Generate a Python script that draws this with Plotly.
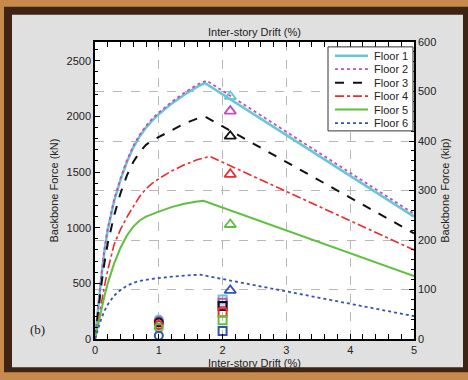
import plotly.graph_objects as go

KIP = 4.448  # kN per kip

floors = ["Floor 1", "Floor 2", "Floor 3", "Floor 4", "Floor 5", "Floor 6"]
colors = ["#66c6da", "#c24fb4", "#111111", "#ee2a2a", "#5fc03f", "#3352bb"]
dashes = ["solid", "dot", "dash", "dashdot", "solid", "dot"]
widths = [2.5, 1.8, 2.0, 1.6, 2.0, 1.8]

drift_rise = [0, 0.05, 0.1, 0.15, 0.2, 0.3, 0.4, 0.5, 0.6, 0.7, 0.8, 0.9, 1.0, 1.2, 1.4, 1.6]
force_rise = [
    [0, 300, 560, 800, 980, 1240, 1430, 1590, 1720, 1820, 1900, 1965, 2020, 2115, 2195, 2265],
    [0, 310, 575, 815, 995, 1255, 1445, 1605, 1735, 1835, 1915, 1980, 2035, 2130, 2212, 2285],
    [0, 260, 490, 690, 860, 1110, 1310, 1470, 1590, 1680, 1745, 1785, 1815, 1880, 1935, 1980],
    [0, 170, 330, 480, 620, 850, 985, 1095, 1190, 1280, 1350, 1400, 1440, 1510, 1565, 1610],
    [0, 140, 270, 390, 500, 680, 820, 930, 1010, 1065, 1100, 1125, 1145, 1185, 1215, 1235],
    [0, 100, 185, 255, 310, 390, 440, 478, 505, 522, 533, 541, 548, 560, 570, 577],
]
peak_drift = [1.72, 1.75, 1.72, 1.80, 1.70, 1.65]
peak_force = [2300, 2322, 2000, 1640, 1241, 578]
end_drift = 5.0
end_force = [1100, 1125, 950, 800, 565, 205]

circle_x = 1.0
circle_y = [175, 162, 148, 125, 100, 30]
square_x = 2.0
square_y = [356, 326, 297, 239, 169, 73]
tri_x = 2.12
tri_y = [2180, 2048, 1823, 1480, 1029, 437]

x_ticks = [0, 1, 2, 3, 4, 5]
kn_ticks = [0, 500, 1000, 1500, 2000, 2500]
kip_ticks = [0, 100, 200, 300, 400, 500, 600]

FONT = "Liberation Sans, Arial, sans-serif"

fig = go.Figure()

for i, name in enumerate(floors):
    xs = drift_rise + [peak_drift[i], end_drift]
    ys = force_rise[i] + [peak_force[i], end_force[i]]
    fig.add_trace(go.Scatter(
        x=xs, y=ys, mode="lines", name=name, showlegend=False,
        line=dict(color=colors[i], dash=dashes[i], width=widths[i]),
    ))

for i, name in enumerate(floors):
    fig.add_trace(go.Scatter(
        x=[circle_x], y=[circle_y[i]], mode="markers", showlegend=False,
        marker=dict(symbol="circle-open", size=8, color=colors[i], line=dict(width=2)),
    ))
    fig.add_trace(go.Scatter(
        x=[square_x], y=[square_y[i]], mode="markers", showlegend=False,
        marker=dict(symbol="square-open", size=8, color=colors[i], line=dict(width=2)),
    ))
    fig.add_trace(go.Scatter(
        x=[tri_x], y=[tri_y[i]], mode="markers", showlegend=False,
        marker=dict(symbol="triangle-up-open", size=10, color=colors[i], line=dict(width=1.8)),
    ))

# dummy trace to activate right (kip) axis
fig.add_trace(go.Scatter(x=[None], y=[None], yaxis="y2", showlegend=False, hoverinfo="skip"))

# pixel -> paper helpers
L, R, T, B = 95, 414, 42, 346
def px(x):
    return (x - L) / (R - L)
def py(y):
    return (B - y) / (B - T)

shapes = [
    dict(type="rect", xref="paper", yref="paper", x0=px(4), x1=px(468), y0=py(380), y1=py(6),
         fillcolor="#3d2414", line=dict(width=0), layer="below"),
    dict(type="rect", xref="paper", yref="paper", x0=px(12), x1=px(463), y0=py(375), y1=py(14),
         fillcolor="#e0e0e0", line=dict(width=0), layer="below"),
    dict(type="rect", xref="paper", yref="paper", x0=0, x1=1, y0=0, y1=1,
         fillcolor="white", line=dict(width=0), layer="below"),
]
annotations = []

# legend box
shapes.append(dict(type="rect", xref="paper", yref="paper", x0=px(328), x1=px(413),
                   y0=py(133), y1=py(47), fillcolor="white",
                   line=dict(color="#333333", width=1), layer="above"))
for i, name in enumerate(floors):
    yc = 56 + i * 13.8
    shapes.append(dict(type="line", xref="paper", yref="paper", x0=px(335), x1=px(368),
                       y0=py(yc), y1=py(yc),
                       line=dict(color=colors[i], dash=dashes[i], width=widths[i]), layer="above"))
    annotations.append(dict(text=name, xref="paper", yref="paper", x=px(372), y=py(yc),
                            xanchor="left", yanchor="middle", showarrow=False,
                            font=dict(family=FONT, size=11, color="#222222")))

annotations.append(dict(text="Inter-story Drift (%)", xref="paper", yref="paper",
                        x=0.5, y=py(32), xanchor="center", yanchor="middle", showarrow=False,
                        font=dict(family=FONT, size=11, color="#222222")))
annotations.append(dict(text="(b)", xref="paper", yref="paper", x=px(37), y=py(336),
                        xanchor="center", yanchor="middle", showarrow=False,
                        font=dict(family="Liberation Serif, Times New Roman, serif", size=13,
                                  color="#222222")))

axis_common = dict(
    showline=True, linecolor="black", linewidth=1.5,
    ticks="inside", ticklen=5, tickcolor="black", tickwidth=1,
    tickfont=dict(family=FONT, size=11, color="#222222"),
    zeroline=False,
)

fig.update_layout(
    width=468, height=380,
    margin=dict(l=L, r=468 - R, t=T, b=380 - B),
    paper_bgcolor="#c68b4c",
    plot_bgcolor="white",
    showlegend=False,
    shapes=shapes,
    annotations=annotations,
    xaxis=dict(
        range=[0, 5], tickvals=x_ticks, mirror="allticks",
        showgrid=True, gridcolor="#b8b8b8", griddash="dash", gridwidth=1,
        minor=dict(ticks="inside", ticklen=3, dtick=0.2, tickcolor="black", showgrid=False),
        title=dict(text="Inter-story Drift (%)", standoff=4,
                   font=dict(family=FONT, size=11, color="#222222")),
        **axis_common,
    ),
    yaxis=dict(
        range=[0, 600 * KIP], tickvals=kn_ticks, showgrid=False,
        minor=dict(ticks="inside", ticklen=3, dtick=100, tickcolor="black", showgrid=False),
        title=dict(text="Backbone Force (kN)", standoff=6,
                   font=dict(family=FONT, size=11, color="#222222")),
        **axis_common,
    ),
    yaxis2=dict(
        range=[0, 600], tickvals=kip_ticks, overlaying="y", side="right",
        showgrid=True, gridcolor="#b8b8b8", griddash="dash", gridwidth=1,
        minor=dict(ticks="inside", ticklen=3, dtick=20, tickcolor="black", showgrid=False),
        title=dict(text="Backbone Force (kip)", standoff=6,
                   font=dict(family=FONT, size=11, color="#222222")),
        **axis_common,
    ),
)

fig.write_html("out.html")
